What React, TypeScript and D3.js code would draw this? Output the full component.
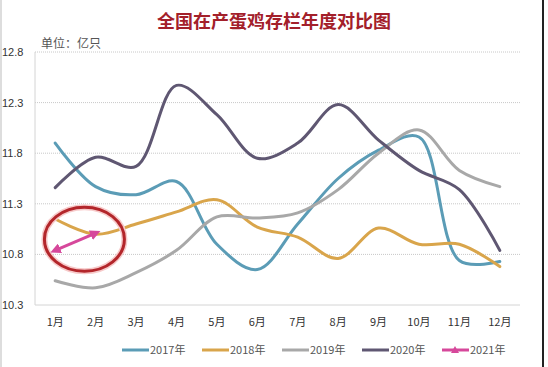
import React, { useEffect, useRef } from "react";
import * as d3 from "d3";

const months = ["1月", "2月", "3月", "4月", "5月", "6月", "7月", "8月", "9月", "10月", "11月", "12月"];
const yTicks = [10.3, 10.8, 11.3, 11.8, 12.3, 12.8];

const s2017 = [11.9, 11.47, 11.39, 11.52, 10.9, 10.65, 11.1, 11.55, 11.83, 11.96, 10.74, 10.73];
const s2018 = [11.15, 11.0, 11.1, 11.22, 11.34, 11.07, 10.97, 10.76, 11.06, 10.9, 10.9, 10.68];
const s2019 = [10.54, 10.47, 10.62, 10.84, 11.17, 11.16, 11.21, 11.44, 11.8, 12.03, 11.63, 11.47];
const s2020 = [11.46, 11.76, 11.67, 12.47, 12.18, 11.75, 11.9, 12.28, 11.93, 11.63, 11.44, 10.84];
const s2021 = [10.84, 11.01];

const seriesNames = ["2017年", "2018年", "2019年", "2020年", "2021年"];
const colors = ["#5b9cb6", "#d9a54b", "#a8a8a8", "#5f5772", "#d6489b"];

export default function App() {
  const ref = useRef<SVGSVGElement>(null);

  useEffect(() => {
    const svg = d3.select(ref.current);
    svg.selectAll("*").remove();
    const width = 548;
    const height = 367;
    const margin = { top: 52, right: 28, bottom: 62, left: 35 };

    svg.append("rect").attr("width", width).attr("height", height).attr("fill", "#fff");

    const x = d3
      .scalePoint<string>()
      .domain(months)
      .range([margin.left, width - margin.right])
      .padding(0.5);
    const y = d3
      .scaleLinear()
      .domain([10.3, 12.8])
      .range([height - margin.bottom, margin.top]);

    // frame
    svg.append("line").attr("x1", 1).attr("x2", 1).attr("y1", 0).attr("y2", height).attr("stroke", "#bbb");
    svg.append("line").attr("x1", 543).attr("x2", 543).attr("y1", 0).attr("y2", height).attr("stroke", "#222").attr("stroke-width", 2);

    // title
    svg
      .append("text")
      .attr("x", 274)
      .attr("y", 28)
      .attr("text-anchor", "middle")
      .attr("font-family", "'Noto Sans CJK SC', sans-serif")
      .attr("font-weight", "bold")
      .attr("font-size", 18)
      .attr("fill", "#a3202a")
      .text("全国在产蛋鸡存栏年度对比图");

    svg
      .append("text")
      .attr("x", 41)
      .attr("y", 48)
      .attr("font-family", "'Noto Sans CJK SC', sans-serif")
      .attr("font-size", 12)
      .attr("fill", "#555")
      .text("单位：亿只");

    // grid
    svg
      .append("g")
      .selectAll("line")
      .data(yTicks.slice(1))
      .join("line")
      .attr("x1", margin.left)
      .attr("x2", width - margin.right)
      .attr("y1", (d) => y(d))
      .attr("y2", (d) => y(d))
      .attr("stroke", "#c8c8c8")
      .attr("stroke-dasharray", "1,1");

    svg
      .append("line")
      .attr("x1", margin.left)
      .attr("x2", width - margin.right)
      .attr("y1", y(10.3))
      .attr("y2", y(10.3))
      .attr("stroke", "#d4d4d4");
    svg
      .append("line")
      .attr("x1", margin.left)
      .attr("x2", margin.left)
      .attr("y1", y(12.8))
      .attr("y2", y(10.3))
      .attr("stroke", "#d4d4d4");

    svg
      .append("g")
      .selectAll("text")
      .data(yTicks)
      .join("text")
      .attr("x", 2)
      .attr("y", (d) => y(d) + 4)
      .attr("font-family", "'Liberation Sans', sans-serif")
      .attr("font-size", 11)
      .attr("fill", "#333")
      .text((d) => d.toFixed(1));

    svg
      .append("g")
      .selectAll("text")
      .data(months)
      .join("text")
      .attr("x", (d) => x(d)!)
      .attr("y", 326)
      .attr("text-anchor", "middle")
      .attr("font-family", "'Noto Sans CJK SC', sans-serif")
      .attr("font-size", 11)
      .attr("fill", "#333")
      .text((d) => d);

    const line = d3
      .line<number>()
      .x((_, i) => x(months[i])!)
      .y((d) => y(d))
      .curve(d3.curveCatmullRom.alpha(0.5));

    const data = [s2017, s2018, s2019, s2020];
    data.forEach((s, i) => {
      svg
        .append("path")
        .attr("d", line(s)!)
        .attr("fill", "none")
        .attr("stroke", colors[i])
        .attr("stroke-width", 3)
        .attr("stroke-linecap", "round");
    });

    // red ellipse with glow
    const cx = (x("1月")! + x("2月")!) / 2 + 9;
    const cy = y(10.95);
    svg
      .append("ellipse")
      .attr("cx", cx)
      .attr("cy", cy)
      .attr("rx", 40)
      .attr("ry", 32)
      .attr("fill", "none")
      .attr("stroke", "#f7caca")
      .attr("stroke-width", 6);
    svg
      .append("ellipse")
      .attr("cx", cx)
      .attr("cy", cy)
      .attr("rx", 40)
      .attr("ry", 32)
      .attr("fill", "none")
      .attr("stroke", "#b3262b")
      .attr("stroke-width", 3);

    // 2021 with arrow ends
    const defs = svg.append("defs");
    defs
      .append("marker")
      .attr("id", "tri")
      .attr("viewBox", "0 0 10 10")
      .attr("refX", 5)
      .attr("refY", 5)
      .attr("markerWidth", 3.5)
      .attr("markerHeight", 3.5)
      .attr("orient", "auto-start-reverse")
      .append("path")
      .attr("d", "M0,0L10,5L0,10Z")
      .attr("fill", colors[4]);

    svg
      .append("path")
      .attr("d", line(s2021)!)
      .attr("fill", "none")
      .attr("stroke", colors[4])
      .attr("stroke-width", 3)
      .attr("marker-start", "url(#tri)")
      .attr("marker-end", "url(#tri)");

    // legend
    const lg = svg.append("g");
    seriesNames.forEach((name, i) => {
      const lx = 122 + i * 80;
      lg.append("line")
        .attr("x1", lx)
        .attr("x2", lx + 27)
        .attr("y1", 350)
        .attr("y2", 350)
        .attr("stroke", colors[i])
        .attr("stroke-width", 3);
      if (i === 4) {
        lg.append("path")
          .attr("d", `M${lx + 9},353L${lx + 13},346L${lx + 17},353Z`)
          .attr("fill", colors[i]);
      }
      lg.append("text")
        .attr("x", lx + 28)
        .attr("y", 354)
        .attr("font-family", "'Noto Sans CJK SC', sans-serif")
        .attr("font-size", 11)
        .attr("fill", "#555")
        .text(name);
    });
  }, []);

  return (
    <svg
      ref={ref}
      width={548}
      height={367}
      style={{ position: "absolute", left: 0, top: 0 }}
    />
  );
}
